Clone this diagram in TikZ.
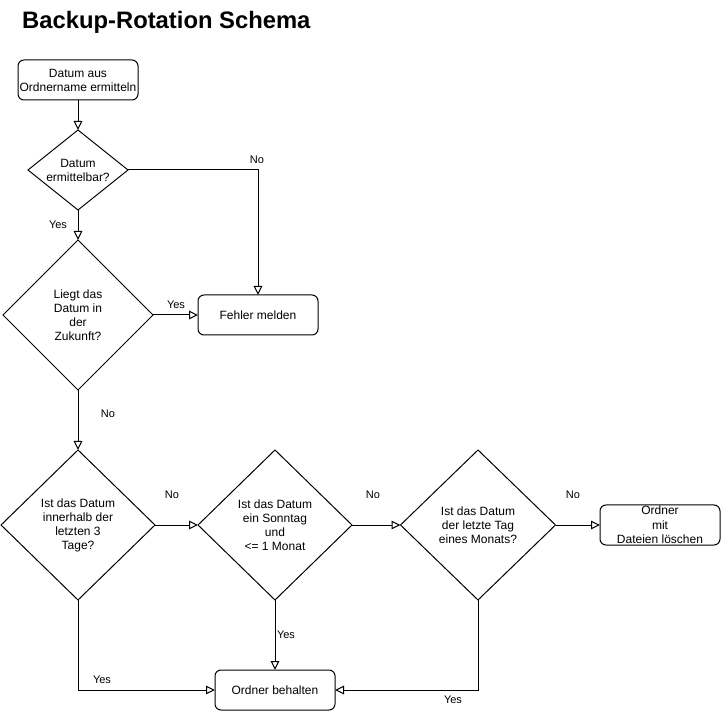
\documentclass[tikz,border=0pt]{standalone}
\usepackage{fontspec}
\setmainfont{Liberation Sans}
\usetikzlibrary{shapes.geometric,arrows.meta}
\tikzset{
  base/.style={draw=black, line width=1pt, inner sep=0pt, outer sep=0pt, align=center,
    font=\fontsize{12}{14}\selectfont},
  box/.style={base, rectangle, rounded corners=6pt, minimum width=120pt, minimum height=40pt},
  dia/.style={base, diamond},
  arr/.style={draw=black, line width=1pt, -{Triangle[open,length=9pt,width=8.5pt,line width=1pt]}},
  plain/.style={draw=black, line width=1pt},
  lbl/.style={inner sep=0pt, font=\fontsize{11}{13}\selectfont},
  dtext/.style={align=center, inner sep=0pt, font=\fontsize{12}{14}\selectfont},
}
\begin{document}
\begin{tikzpicture}[x=1pt,y=-1pt]
\useasboundingbox (0,0) rectangle (721,711);
\node[font=\fontsize{23.8}{28}\selectfont\bfseries, anchor=base west, inner sep=0pt] (title) at (22,29) {Backup-Rotation Schema};

\node[box] (start) at (78,80) {Datum aus\\Ordnername ermitteln};
\node[dia, minimum width=100pt, minimum height=80pt,
  label={[dtext]center:Datum\\ermittelbar?}] (d1) at (78,170) {};
\node[dia, minimum width=150pt, minimum height=150pt,
  label={[dtext]center:Liegt das\\Datum in\\der\\Zukunft?}] (d2) at (78,315) {};
\node[box] (fehler) at (258,315) {Fehler melden};
\node[dia, minimum width=154pt, minimum height=150pt,
  label={[dtext]center:Ist das Datum\\innerhalb der\\letzten 3\\Tage?}] (d3) at (78,525) {};
\node[dia, minimum width=154pt, minimum height=150pt,
  label={[dtext]center:Ist das Datum\\ein Sonntag\\und\\<= 1 Monat}] (d4) at (275,525) {};
\node[dia, minimum width=155pt, minimum height=150pt,
  label={[dtext]center:Ist das Datum\\der letzte Tag\\eines Monats?}] (d5) at (478,525) {};
\node[box, align=center, font=\fontsize{12}{14.5}\selectfont] (loeschen) at (660,525) {Ordner\\mit\\Dateien löschen};
\node[box] (behalten) at (275,690) {Ordner behalten};

\draw[arr] (start.south) -- (d1.north);
\draw[arr] (d1.south) -- (d2.north);
\draw[arr] (d1.east) -| (fehler.north);
\draw[arr] (d2.east) -- (fehler.west);
\draw[arr] (d2.south) -- (d3.north);
\draw[arr] (d3.east) -- (d4.west);
\draw[arr] (d4.east) -- (d5.west);
\draw[arr] (d5.east) -- (loeschen.west);
\draw[arr] (d3.south) |- (behalten.west);
\draw[arr] (d4.south) -- (behalten.north);
\draw[arr] (d5.south) |- (behalten.east);

\node[lbl] (l1) at (257,160) {No};
\node[lbl] (l2) at (58,225) {Yes};
\node[lbl] (l3) at (176,305) {Yes};
\node[lbl] (l4) at (108,414) {No};
\node[lbl] (l5) at (172,495) {No};
\node[lbl] (l6) at (373,495) {No};
\node[lbl] (l7) at (573,495) {No};
\node[lbl] (l8) at (102,680) {Yes};
\node[lbl] (l9) at (286,635) {Yes};
\node[lbl] (l10) at (453,700) {Yes};
\end{tikzpicture}
\end{document}
